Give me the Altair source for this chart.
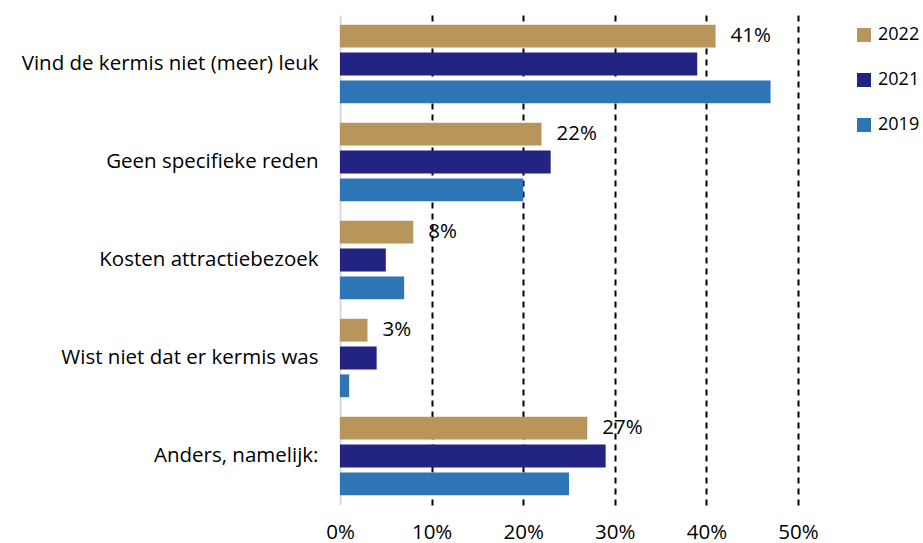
import altair as alt
import pandas as pd

categories = [
    "Vind de kermis niet (meer) leuk",
    "Geen specifieke reden",
    "Kosten attractiebezoek",
    "Wist niet dat er kermis was",
    "Anders, namelijk:",
]
years = ["2022", "2021", "2019"]
v2022 = [41, 22, 8, 3, 27]
v2021 = [39, 23, 5, 4, 29]
v2019 = [47, 20, 7, 1, 25]
colors = ["#B8965B", "#232384", "#2E75B5"]
x_ticks = [0, 0.1, 0.2, 0.3, 0.4, 0.5]

rows = []
for i, c in enumerate(categories):
    for y, vals in zip(years, [v2022, v2021, v2019]):
        rows.append({"cat": c, "year": y, "value": vals[i] / 100})
df = pd.DataFrame(rows)

FONT = "Open Sans"
FS = 20.5

y_enc = alt.Y(
    "cat:N",
    sort=categories,
    scale=alt.Scale(paddingInner=0.2, paddingOuter=0.1),
    axis=alt.Axis(
        title=None, labelFontSize=FS, labelPadding=22, ticks=False,
        domainColor="#D9D9D9", domainWidth=2, labelColor="black", labelLimit=400,
    ),
)
yoff_enc = alt.YOffset("year:N", sort=years, scale=alt.Scale(paddingInner=0.18))
x_enc = alt.X(
    "value:Q",
    scale=alt.Scale(domain=[0, 0.5]),
    axis=alt.Axis(
        format=".0%", values=x_ticks, title=None, ticks=False, domain=False,
        labelFontSize=FS, labelPadding=17, labelColor="black", labelFlush=False,
        gridDash=[6, 5], gridWidth=2,
        gridColor={"condition": {"test": "datum.value === 0", "value": "transparent"}, "value": "black"},
    ),
)

base = alt.Chart(df)
bars = base.mark_bar().encode(
    y=y_enc,
    yOffset=yoff_enc,
    x=x_enc,
    color=alt.Color(
        "year:N", sort=years,
        scale=alt.Scale(domain=years, range=colors),
        legend=alt.Legend(
            title=None, orient="none", legendX=515, legendY=11,
            symbolType="square", symbolSize=196, symbolStrokeWidth=0,
            labelFontSize=18, labelColor="black", rowPadding=27, labelOffset=5,
            labelLimit=60,
        ),
    ),
)
labels = base.transform_filter(alt.datum.year == "2022").mark_text(
    align="left", dx=15, fontSize=FS, color="black", font=FONT
).encode(
    y=alt.Y("cat:N", sort=categories),
    yOffset=alt.YOffset("year:N", sort=years),
    x=alt.X("value:Q"),
    text=alt.Text("value:Q", format=".0%"),
)

chart = (
    alt.layer(bars, labels)
    .properties(
        width=458, height=490,
        autosize=alt.AutoSizeParams(type="none"),
        padding={"left": 340, "top": 15, "right": 125, "bottom": 38},
    )
    .configure(font=FONT)
    .configure_view(stroke=None)
)

chart.save("out.html", embed_options={"renderer": "svg", "actions": False})
